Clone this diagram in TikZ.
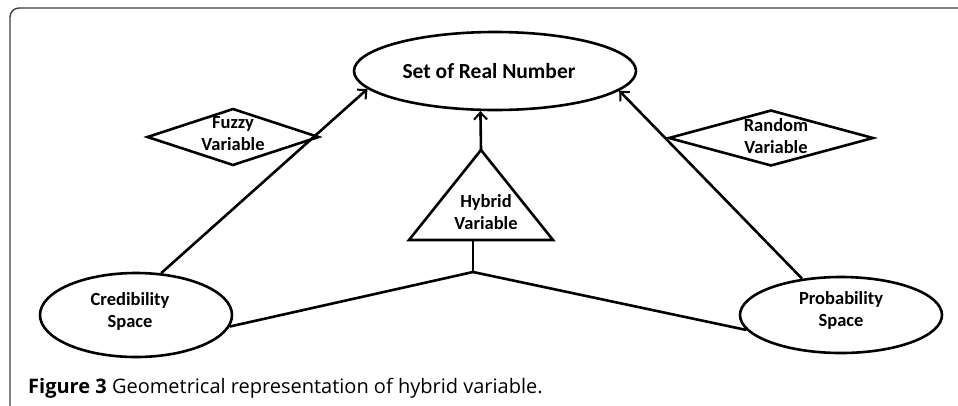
\documentclass[tikz,border=0pt]{standalone}
\usepackage{fontspec}
\setmainfont{Carlito}
\newfontfamily\capfont{Open Sans}
\usetikzlibrary{shapes.geometric,arrows.meta}
\begin{document}
\begin{tikzpicture}[x=1pt,y=-1pt,
  shapeline/.style={draw=black,line width=2.6pt},
  ell/.style={shapeline,ellipse,inner sep=0pt},
  dia/.style={shapeline,diamond,inner sep=0pt},
  lbl/.style={font=\fontsize{18.5}{22}\selectfont\bfseries,align=center,inner sep=0pt},
  conn/.style={line width=2.6pt},
  arr/.style={conn,-{Straight Barb[length=7pt,width=13pt,line width=2pt]}}
]
\useasboundingbox (0,0) rectangle (958,405);
% frame
\draw[line width=1.4pt,draw=black!75,rounded corners=9pt] (10,8) -- (975,8) -- (975,420) -- (10,420) -- cycle;
% top ellipse
\node[ell,minimum width=282pt,minimum height=78pt] (top) at (495,71) {};
\node[font=\fontsize{21.5}{24}\selectfont\bfseries,inner sep=0pt] (toplbl) at (489,71) {Set of Real Number};
% credibility / probability
\node[ell,minimum width=192pt,minimum height=84pt] (cred) at (136,315) {};
\node[lbl] (credlbl) at (130,311) {Credibility\\Space};
\node[ell,minimum width=202pt,minimum height=76pt] (prob) at (841,315) {};
\node[lbl] (problbl) at (841,310) {Probability\\Space};
% diamonds
\node[dia,minimum width=172pt,minimum height=57pt] (fuzzy) at (233,137) {};
\node[lbl] (fuzzylbl) at (233,134) {Fuzzy\\Variable};
\node[dia,minimum width=205pt,minimum height=56pt] (random) at (771,138) {};
\node[lbl] (randomlbl) at (776,136) {Random\\Variable};
% triangle
\coordinate (hapex) at (481,150);
\coordinate (hbl) at (409,240);
\coordinate (hbr) at (553,240);
\coordinate (hstem) at (473,240);
\coordinate (junc) at (473,272);
\draw[shapeline,line join=miter] (hapex) -- (hbl) -- (hbr) -- cycle;
\node[lbl] (hyblbl) at (486,212) {Hybrid\\Variable};
% connectors
\draw[arr] (cred.59.5) -- (top.188.5);
\draw[arr] (prob.137) -- (top.351);
\draw[arr] (hapex) -- (top.250);
\draw[conn] (hstem) -- (junc);
\draw[conn] (junc) -- (cred.353.6);
\draw[conn] (junc) -- (prob.189);
% caption
\node[anchor=base west,inner sep=0pt,font=\capfont\fontsize{20}{22}\selectfont] (cap) at (28,393) {\textbf{Figure 3} Geometrical representation of hybrid variable.};
\end{tikzpicture}
\end{document}
